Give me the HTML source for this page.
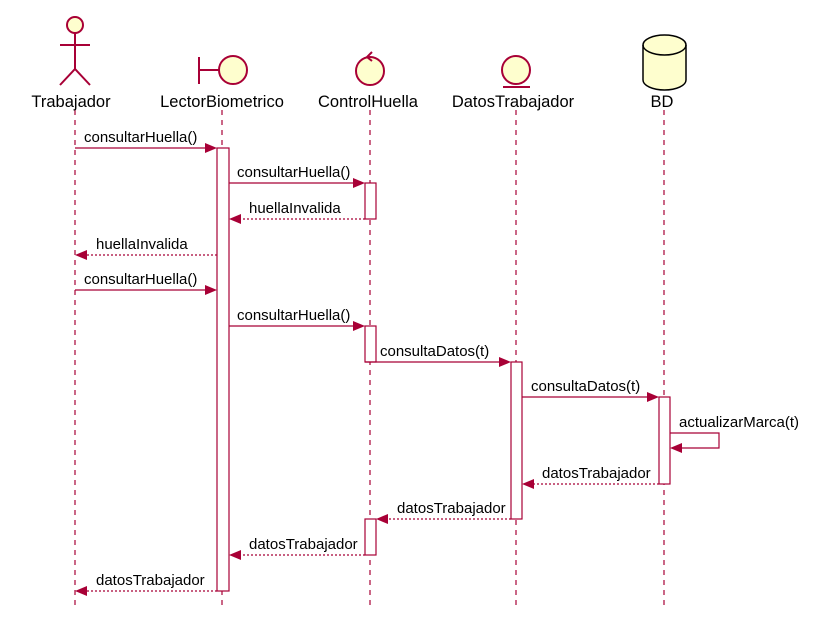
<!DOCTYPE html>
<html><head><style>body{margin:0;background:#fff}svg{display:block}text{font-family:"Liberation Sans",sans-serif;font-size:15px;fill:#000}text.h{font-size:16.5px}</style></head>
<body>
<svg width="829" height="633" viewBox="0 0 829 633" xmlns="http://www.w3.org/2000/svg">
<g stroke="#A80036" stroke-width="1.2" stroke-dasharray="5,5" fill="none">
<line x1="75" y1="110" x2="75" y2="610"/>
<line x1="222" y1="110" x2="222" y2="610"/>
<line x1="370" y1="110" x2="370" y2="610"/>
<line x1="516" y1="110" x2="516" y2="610"/>
<line x1="664" y1="110" x2="664" y2="610"/>
</g>
<g stroke="#A80036" stroke-width="2" fill="#FEFECE">
<circle cx="75" cy="25" r="8"/>
<line x1="75" y1="33" x2="75" y2="69"/>
<line x1="60" y1="45" x2="90" y2="45"/>
<polyline points="60,85 75,69 90,85" fill="none"/>
<line x1="199" y1="57" x2="199" y2="84"/>
<line x1="199" y1="70" x2="219" y2="70"/>
<circle cx="233" cy="70" r="14"/>
<circle cx="370" cy="71" r="14"/>
<polyline points="372,52 367,57 372,61" fill="none"/>
<circle cx="516" cy="70" r="14"/>
<line x1="503" y1="87" x2="530" y2="87"/>
</g>
<g stroke="#000" stroke-width="1.5" fill="#FEFECE">
<path d="M643,45 A21.5,10 0 0 1 686,45 L686,80 A21.5,10 0 0 1 643,80 Z"/>
<path d="M643,45 A21.5,10 0 0 0 686,45" fill="none"/>
</g>
<g text-anchor="middle">
<text class="h" x="71" y="107">Trabajador</text>
<text class="h" x="222" y="107">LectorBiometrico</text>
<text class="h" x="368" y="107">ControlHuella</text>
<text class="h" x="513" y="107">DatosTrabajador</text>
<text class="h" x="662" y="107">BD</text>
</g>
<g stroke="#A80036" stroke-width="1.2" fill="#fff">
<rect x="217" y="148" width="12" height="443"/>
<rect x="365" y="183" width="11" height="36"/>
<rect x="365" y="326" width="11" height="36"/>
<rect x="365" y="519" width="11" height="36"/>
<rect x="511" y="362" width="11" height="157"/>
<rect x="659" y="397" width="11" height="87"/>
</g>
<g stroke="#A80036" stroke-width="1.2" fill="none">
<line x1="75" y1="148" x2="207" y2="148"/>
<line x1="229" y1="183" x2="355" y2="183"/>
<line x1="365" y1="219" x2="239" y2="219" stroke-dasharray="2,2"/>
<line x1="217" y1="255" x2="85" y2="255" stroke-dasharray="2,2"/>
<line x1="75" y1="290" x2="207" y2="290"/>
<line x1="229" y1="326" x2="355" y2="326"/>
<line x1="365" y1="362" x2="501" y2="362"/>
<line x1="522" y1="397" x2="649" y2="397"/>
<polyline points="670,433 719,433 719,448 680,448"/>
<line x1="659" y1="484" x2="532" y2="484" stroke-dasharray="2,2"/>
<line x1="511" y1="519" x2="386" y2="519" stroke-dasharray="2,2"/>
<line x1="365" y1="555" x2="239" y2="555" stroke-dasharray="2,2"/>
<line x1="217" y1="591" x2="85" y2="591" stroke-dasharray="2,2"/>
</g>
<g fill="#A80036">
<polygon points="217,148 205,143 205,153"/>
<polygon points="365,183 353,178 353,188"/>
<polygon points="229,219 241,214 241,224"/>
<polygon points="75,255 87,250 87,260"/>
<polygon points="217,290 205,285 205,295"/>
<polygon points="365,326 353,321 353,331"/>
<polygon points="511,362 499,357 499,367"/>
<polygon points="659,397 647,392 647,402"/>
<polygon points="670,448 682,443 682,453"/>
<polygon points="522,484 534,479 534,489"/>
<polygon points="376,519 388,514 388,524"/>
<polygon points="229,555 241,550 241,560"/>
<polygon points="75,591 87,586 87,596"/>
</g>
<text x="84" y="142">consultarHuella()</text>
<text x="237" y="177">consultarHuella()</text>
<text x="249" y="213">huellaInvalida</text>
<text x="96" y="249">huellaInvalida</text>
<text x="84" y="284">consultarHuella()</text>
<text x="237" y="320">consultarHuella()</text>
<text x="380" y="356">consultaDatos(t)</text>
<text x="531" y="391">consultaDatos(t)</text>
<text x="679" y="427">actualizarMarca(t)</text>
<text x="542" y="478">datosTrabajador</text>
<text x="397" y="513">datosTrabajador</text>
<text x="249" y="549">datosTrabajador</text>
<text x="96" y="585">datosTrabajador</text>
</svg>
</body></html>
